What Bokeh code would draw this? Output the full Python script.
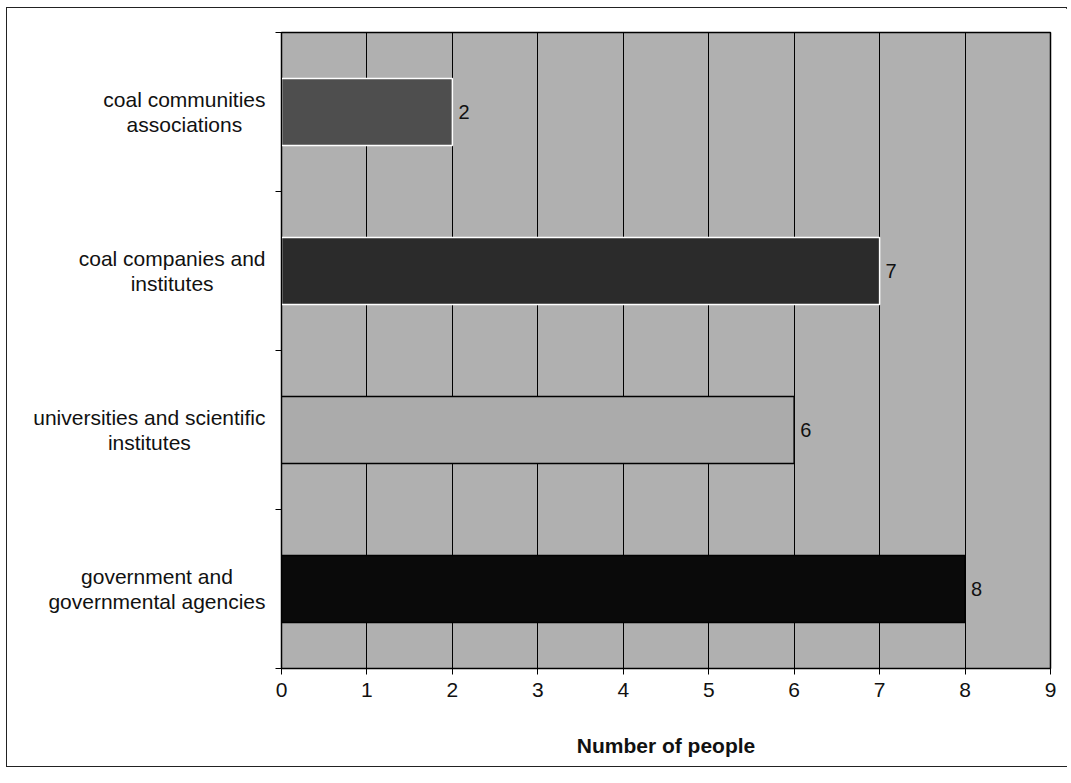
from bokeh.plotting import figure
from bokeh.layouts import row
from bokeh.models import FixedTicker, ColumnDataSource, Range1d
from bokeh.core.properties import value
from bokeh.embed import file_html
from bokeh.resources import INLINE

categories = ["government and\ngovernmental agencies",
              "universities and scientific\ninstitutes",
              "coal companies and\ninstitutes",
              "coal communities\nassociations"]
counts = [8, 6, 7, 2]
bar_colors = ["#0a0a0a", "#ababab", "#2b2b2b", "#4e4e4e"]
bar_lines = ["#000000", "#000000", "#ffffff", "#ffffff"]
x_ticks = [0, 1, 2, 3, 4, 5, 6, 7, 8, 9]

FONT = "Liberation Sans"
FS = 21
# Arial / Liberation Sans advance widths (1/1000 em) for width estimation
_W = {" ": 278, "a": 556, "b": 556, "c": 500, "d": 556, "e": 556, "f": 278, "g": 556,
      "h": 556, "i": 222, "j": 222, "k": 500, "l": 222, "m": 833, "n": 556, "o": 556,
      "p": 556, "q": 556, "r": 333, "s": 500, "t": 278, "u": 556, "v": 500, "w": 722,
      "x": 500, "y": 500, "z": 500}


def text_width(s):
    return max(sum(_W.get(ch, 556) for ch in line) for line in s.split("\n")) * FS / 1000.0


pos = [i + 0.5 for i in range(len(categories))]
src = ColumnDataSource(dict(y=pos, right=counts, color=bar_colors, line=bar_lines,
                            label=[str(c) for c in counts]))
yr = Range1d(0, 4)

# left panel holding the category labels (block right-aligned, lines centred)
LW = 262
RIGHT_EDGE = LW - 4
lab = figure(width=LW, height=758, x_range=(0, LW), y_range=yr,
             output_backend="svg", toolbar_location=None,
             x_axis_location=None, y_axis_location=None,
             min_border_left=0, min_border_right=0, min_border_top=24, min_border_bottom=98)
lab.outline_line_color = None
lab.background_fill_color = "white"
lab.border_fill_color = "white"
lab.grid.grid_line_color = None
lab.text(x=[RIGHT_EDGE - text_width(c) / 2 for c in categories], y=pos, text=categories,
         text_align="center", text_baseline="middle", text_font_size=f"{FS}px",
         text_font=value(FONT), text_color="#111", text_line_height=1.12)

p = figure(width=1061 - LW, height=758, x_range=(0, 9), y_range=yr,
           output_backend="svg", toolbar_location=None,
           min_border_left=12, min_border_right=18, min_border_top=24, min_border_bottom=98)
p.background_fill_color = "#b0b0b0"
p.border_fill_color = "white"
p.outline_line_color = "black"
p.outline_line_width = 1.5

p.hbar(y="y", right="right", left=0, height=0.42, fill_color="color",
       line_color="line", line_width=1.5, source=src)
p.text(x="right", y="y", text="label", source=src, x_offset=6,
       text_align="left", text_baseline="middle", text_font_size="20px",
       text_font=value(FONT), text_color="#111")

p.xgrid.ticker = FixedTicker(ticks=x_ticks)
p.xgrid.grid_line_color = "black"
p.xgrid.grid_line_width = 1
p.ygrid.grid_line_color = None

p.xaxis.ticker = FixedTicker(ticks=x_ticks)
p.xaxis.axis_label = "Number of people"
p.xaxis.axis_label_text_font = FONT
p.xaxis.axis_label_text_font_style = "bold"
p.xaxis.axis_label_text_font_size = "21px"
p.xaxis.axis_label_text_color = "#111"
p.xaxis.axis_label_standoff = 34
p.xaxis.major_label_text_font = FONT
p.xaxis.major_label_text_font_size = "21px"
p.xaxis.major_label_text_color = "#111"
p.xaxis.major_label_standoff = 8
p.xaxis.major_tick_out = 6
p.xaxis.major_tick_in = 0
p.xaxis.minor_tick_line_color = None
p.xaxis.axis_line_color = "black"

p.yaxis.ticker = FixedTicker(ticks=[], minor_ticks=[0, 1, 2, 3, 4])
p.yaxis.major_label_text_font_size = "0px"
p.yaxis.major_label_standoff = 0
p.yaxis.major_tick_line_color = None
p.yaxis.minor_tick_out = 6
p.yaxis.minor_tick_in = 0
p.yaxis.minor_tick_line_color = "black"
p.yaxis.axis_line_color = "black"

layout = row(lab, p, spacing=0)
layout.styles = {"border": "1px solid #222", "margin-left": "6px", "margin-top": "7px",
                 "width": "1061px"}

open("out.html", "w").write(file_html(layout, INLINE))
